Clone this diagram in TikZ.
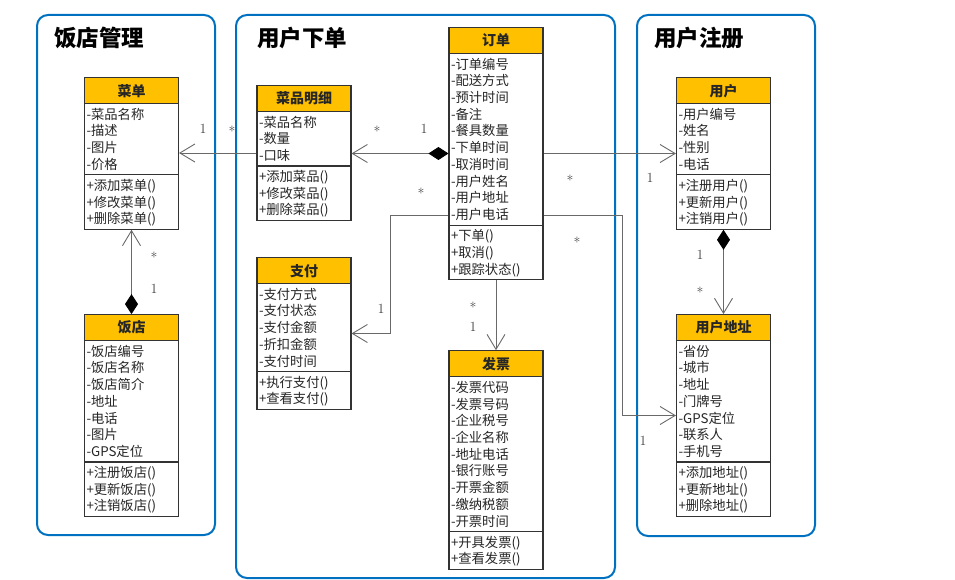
\documentclass[tikz,border=0pt]{standalone}
\usepackage{fontspec}
\newfontfamily\cjk{Noto Sans CJK SC}
\usetikzlibrary{arrows.meta, shapes.multipart, calc}
\definecolor{FrameBlue}{RGB}{0,112,192}
\definecolor{HeadGold}{RGB}{255,192,0}
\definecolor{LineGray}{RGB}{105,105,105}
% row struts: item rows and class headers
\newcommand{\rs}{\rule[-3.4pt]{0pt}{16.74pt}}
\newcommand{\hs}{\rule[-5.8pt]{0pt}{22pt}}
\newcommand{\hd}[1]{\makebox[\linewidth][c]{\hs\bfseries\fontsize{14}{16.74}\selectfont #1}}

\begin{document}
\begin{tikzpicture}[x=1pt, y=-1pt, >={Straight Barb[length=15pt,width=18pt]},
  umlclass/.style={rectangle split, rectangle split parts=3, draw=black!80, line width=1.1pt,
    text width=90pt, inner xsep=2pt, inner ysep=1.5pt, align=left,
    rectangle split part fill={HeadGold,white}, text=black!85,
    font=\cjk\fontsize{13.3}{16.74}\selectfont},
  assoc/.style={draw=LineGray, line width=0.9pt, ->},
  comp/.style={draw=LineGray, line width=0.9pt, arrows={Diamond[length=20pt,width=13pt,color=black]->}},
  mult/.style={font=\fontsize{14}{14}\selectfont, text=black!75, inner sep=0pt},
  group/.style={draw=FrameBlue, line width=2pt, rounded corners=11pt},
  grouptitle/.style={font=\cjk\bfseries\fontsize{22.5}{26}\selectfont, anchor=west, inner sep=0pt}]
  \useasboundingbox (0,0) rectangle (955,580);

  % package frames
  \draw[group] (37,15) rectangle (215,535);
  \draw[group] (236,15) rectangle (615,578);
  \draw[group] (637,15) rectangle (815,536);
  \node[grouptitle] (t-shop) at (54,38) {饭店管理};
  \node[grouptitle] (t-order) at (257,38) {用户下单};
  \node[grouptitle] (t-user) at (654,38) {用户注册};

  % classes
  \node[umlclass] (menu) at (131.5,153.5) {\hd{菜单}
    \nodepart{second}\rs-菜品名称\\-描述\\-图片\\-价格\rs
    \nodepart{third}\rs+添加菜单()\\+修改菜单()\\+删除菜单()\rs};
  \node[umlclass] (shop) at (131.5,415.5) {\hd{饭店}
    \nodepart{second}\rs-饭店编号\\-饭店名称\\-饭店简介\\-地址\\-电话\\-图片\\-GPS定位\rs
    \nodepart{third}\rs+注册饭店()\\+更新饭店()\\+注销饭店()\rs};
  \node[umlclass] (dish) at (304,153) {\hd{菜品明细}
    \nodepart{second}\rs-菜品名称\\-数量\\-口味\rs
    \nodepart{third}\rs+添加菜品()\\+修改菜品()\\+删除菜品()\rs};
  \node[umlclass] (order) at (496,153.5) {\hd{订单}
    \nodepart{second}\rs-订单编号\\-配送方式\\-预计时间\\-备注\\-餐具数量\\-下单时间\\-取消时间\\-用户姓名\\-用户地址\\-用户电话\rs
    \nodepart{third}\rs+下单()\\+取消()\\+跟踪状态()\rs};
  \node[umlclass] (pay) at (304,333.5) {\hd{支付}
    \nodepart{second}\rs-支付方式\\-支付状态\\-支付金额\\-折扣金额\\-支付时间\rs
    \nodepart{third}\rs+执行支付()\\+查看支付()\rs};
  \node[umlclass] (invoice) at (496,460) {\hd{发票}
    \nodepart{second}\rs-发票代码\\-发票号码\\-企业税号\\-企业名称\\-地址电话\\-银行账号\\-开票金额\\-缴纳税额\\-开票时间\rs
    \nodepart{third}\rs+开具发票()\\+查看发票()\rs};
  \node[umlclass] (user) at (723.5,153.5) {\hd{用户}
    \nodepart{second}\rs-用户编号\\-姓名\\-性别\\-电话\rs
    \nodepart{third}\rs+注册用户()\\+更新用户()\\+注销用户()\rs};
  \node[umlclass] (addr) at (723.5,415.5) {\hd{用户地址}
    \nodepart{second}\rs-省份\\-城市\\-地址\\-门牌号\\-GPS定位\\-联系人\\-手机号\rs
    \nodepart{third}\rs+添加地址()\\+更新地址()\\+删除地址()\rs};

  % associations
  \path (order.west) ++(0,61.5) coordinate (order-tel-w);
  \path (order.east) ++(0,61.5) coordinate (order-tel-e);
  \draw[assoc] (dish.west) -- (dish.west -| menu.east);
  \draw[comp] (order.west) -- (order.west -| dish.east);
  \draw[assoc] (order.east) -- (order.east -| user.west);
  \draw[assoc] (order-tel-w) -- ++(-58,0) |- (pay.east);
  \draw[assoc] (order-tel-e) -- ++(79,0) |- (addr.west);
  \draw[assoc] (order.south) -- (invoice.north);
  \draw[comp] (shop.north) -- (menu.south);
  \draw[comp] (user.south) -- (addr.north);

  % multiplicities
  \node[mult] (m-menu) at (203,129) {1};
  \node[mult] (m-dish1) at (232,131) {*};
  \node[mult] (m-dish2) at (377,131) {*};
  \node[mult] (m-order1) at (424,129) {1};
  \node[mult] (m-order2) at (570,180) {*};
  \node[mult] (m-user1) at (650,178) {1};
  \node[mult] (m-order3) at (421,193) {*};
  \node[mult] (m-pay) at (381,309) {1};
  \node[mult] (m-order4) at (473,307) {*};
  \node[mult] (m-invoice) at (473,327) {1};
  \node[mult] (m-order5) at (577,242) {*};
  \node[mult] (m-addr1) at (643,441) {1};
  \node[mult] (m-menu2) at (154,257) {*};
  \node[mult] (m-shop) at (154,289) {1};
  \node[mult] (m-user2) at (700,255) {1};
  \node[mult] (m-addr2) at (700,292) {*};
\end{tikzpicture}
\end{document}
